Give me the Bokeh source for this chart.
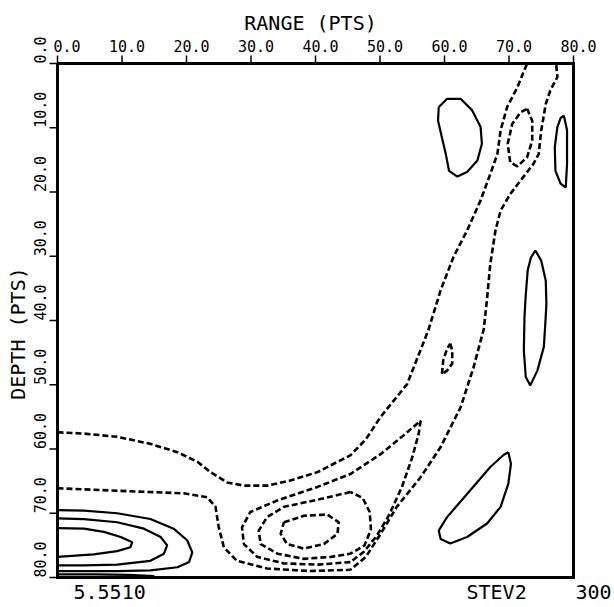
from math import pi
from bokeh.plotting import figure
from bokeh.models import Range1d
from bokeh.core.properties import value
from bokeh.embed import file_html
from bokeh.resources import INLINE

# ---- axis ticks / labels ----
x_ticks = [0, 10, 20, 30, 40, 50, 60, 70, 80]
x_tick_labels = ["0.0", "10.0", "20.0", "30.0", "40.0", "50.0", "60.0", "70.0", "80.0"]
y_ticks = [0, 10, 20, 30, 40, 50, 60, 70, 80]
y_tick_labels = ["0.0", "10.0", "20.0", "30.0", "40.0", "50.0", "60.0", "70.0", "80.0"]
x_title = "RANGE (PTS)"
y_title = "DEPTH (PTS)"
footer_texts = ["5.5510", "STEV2", "300"]

# ---- solid contours (range, depth) ----
s_inner_x = [0, 4.1, 7.2, 9.8, 11.6, 11.3, 9.25, 5.6, 0]
s_inner_y = [72.3, 72.4, 72.9, 73.7, 74.5, 75.3, 75.9, 76.4, 76.8]
s_mid_x = [0, 4.1, 9.25, 13.4, 16.0, 17.0, 16.5, 14.4, 9.25, 4.1, 0]
s_mid_y = [70.8, 70.9, 71.4, 72.4, 73.7, 75.0, 76.3, 77.4, 78.0, 78.1, 78.1]
s_outer_x = [0, 4.1, 9.25, 14.4, 18.0, 20.1, 20.9, 20.4, 18.6, 14.4, 9.25, 0]
s_outer_y = [69.5, 69.6, 70.0, 70.9, 72.4, 74.2, 76.1, 77.6, 78.4, 78.9, 79.0, 79.0]
s_base_x = [0, 6, 11, 15]
s_base_y = [79.5, 79.5, 79.6, 79.8]
s_loop_a_x = [59.1, 60.4, 62.5, 64.3, 65.6, 65.8, 65.1, 63.5, 62.0, 60.7, 60.2, 59.6, 59.0, 59.1]
s_loop_a_y = [6.8, 5.5, 5.5, 7.3, 9.9, 12.5, 15.1, 16.9, 17.6, 16.7, 14.1, 11.5, 8.9, 6.8]
s_loop_b_x = [78.5, 79.0, 79.0, 78.8, 78.0, 77.2, 77.1, 77.5, 78.0, 78.5]
s_loop_b_y = [8.1, 10.4, 15.6, 19.3, 18.7, 16.7, 13.0, 9.9, 8.5, 8.1]
s_loop_c_x = [74.1, 75.0, 75.7, 75.8, 75.6, 75.4, 74.4, 73.3, 72.6, 72.3, 72.4, 72.6, 72.9, 73.4, 74.1]
s_loop_c_y = [29.1, 30.7, 33.8, 37.5, 41.0, 44.1, 47.8, 50.1, 48.8, 44.7, 39.5, 36.0, 32.2, 30.2, 29.1]
s_loop_d_x = [69.9, 70.3, 69.9, 68.7, 66.6, 63.5, 60.9, 59.4, 59.1, 60.4, 63.5, 67.1, 69.2, 69.9]
s_loop_d_y = [60.5, 62.3, 65.4, 69.0, 71.6, 73.7, 74.7, 74.0, 72.7, 70.6, 67.0, 62.8, 60.9, 60.5]

# ---- dashed contours (range, depth) ----
d_upper_x = [0, 4.1, 9.25, 14.4, 18.6, 21.7, 23.7, 26.3, 28.9, 32.5, 36.1, 40.3, 43.4, 45.4,
             47.8, 50.1, 54.2, 57.5, 59.4, 61.4, 63.5, 65.6, 67.1, 68.2, 68.7, 69.7, 71.3, 72.8]
d_upper_y = [57.4, 57.6, 58.1, 59.2, 60.5, 62.0, 63.6, 65.2, 65.7, 65.7, 64.9, 63.6, 62.0, 61.0,
             58.5, 55.0, 49.9, 41.5, 35.3, 30.1, 26.0, 21.3, 17.2, 14.1, 10.4, 6.8, 3.7, 0]
d_tip_x = [45.4, 40.3, 35.1, 31.0, 28.9, 28.6, 29.9, 34.1, 40.3, 45.4, 50.1, 53.5, 56.3,
           56.0, 55.0, 53.4, 51.4, 49.5, 47.5, 45.4]
d_tip_y = [77.6, 78.0, 77.8, 76.8, 74.8, 72.2, 69.8, 68.0, 65.9, 63.9, 60.8, 58.0, 55.6,
           57.6, 61.3, 65.9, 70.3, 73.5, 76.0, 77.6]
d_second_x = [45.4, 40.3, 35.1, 32.5, 31.2, 31.5, 34.1, 38.2, 42.3, 45.4, 47.6, 48.6, 48.4, 47.3, 45.4]
d_second_y = [66.7, 67.9, 69.0, 70.6, 72.7, 74.8, 76.3, 77.1, 76.8, 76.3, 75.0, 72.5, 69.8, 67.6, 66.7]
d_inner_x = [35.1, 38.2, 41.8, 43.6, 43.4, 41.3, 38.2, 35.6, 34.6, 35.1]
d_inner_y = [71.4, 70.4, 70.2, 71.4, 73.2, 74.8, 75.5, 74.8, 73.2, 71.4]
d_lower_x = [0, 9.25, 19.6, 23.2, 24.5, 25.0, 25.8, 27.8, 32.5, 39.2, 45.4, 47.8, 50.1, 52.6,
             56.3, 59.4, 62.5, 64.5, 66.1, 66.6, 67.1, 67.9, 68.7, 70.2, 71.8, 73.8, 74.6, 75.0,
             75.7, 76.4, 77.5, 77.3]
d_lower_y = [66.1, 66.5, 66.9, 67.5, 69.0, 72.2, 75.3, 77.4, 78.6, 79.0, 78.8, 76.8, 73.2, 69.0,
             64.4, 59.7, 53.5, 47.3, 41.3, 36.6, 31.2, 26.0, 22.9, 20.3, 18.2, 15.6, 14.1, 10.4,
             6.3, 4.2, 2.1, 0]
d_small_x = [72.8, 73.6, 73.6, 72.8, 71.3, 70.2, 69.8, 70.5, 71.8, 72.8]
d_small_y = [7.05, 8.9, 12.0, 14.6, 16.0, 15.4, 12.5, 9.4, 7.6, 7.05]
d_tiny_x = [60.9, 61.2, 61.2, 60.4, 59.6, 59.8, 60.4, 60.9]
d_tiny_y = [43.6, 44.7, 46.7, 47.8, 48.4, 46.2, 44.4, 43.6]

solid = [(s_inner_x, s_inner_y), (s_mid_x, s_mid_y), (s_outer_x, s_outer_y),
         (s_base_x, s_base_y), (s_loop_a_x, s_loop_a_y), (s_loop_b_x, s_loop_b_y),
         (s_loop_c_x, s_loop_c_y), (s_loop_d_x, s_loop_d_y)]
dashed = [(d_upper_x, d_upper_y), (d_tip_x, d_tip_y), (d_second_x, d_second_y),
          (d_inner_x, d_inner_y), (d_lower_x, d_lower_y), (d_small_x, d_small_y),
          (d_tiny_x, d_tiny_y)]

FONT = value("DejaVu Sans Mono")
W, H = 614, 607
# pixel placement of the data box on the canvas
FL, FR, FT, FB = 57, 573, 63, 577
x0, x1 = x_ticks[0], x_ticks[-1]
y0, y1 = y_ticks[0], y_ticks[-1]
kx = (FR - FL) / (x1 - x0)   # px per unit
ky = (FB - FT) / (y1 - y0)

p = figure(width=W, height=H,
           x_range=Range1d(x0 - FL / kx, x1 + (W - FR) / kx),
           y_range=Range1d(y1 + (H - FB) / ky, y0 - FT / ky),
           x_axis_location=None, y_axis_location=None,
           output_backend="svg", toolbar_location=None,
           min_border=0, min_border_left=0, min_border_right=0,
           min_border_top=0, min_border_bottom=0)
p.background_fill_color = "white"
p.border_fill_color = "white"
p.outline_line_color = None
p.xgrid.visible = False
p.ygrid.visible = False

# contours
for xs, ys in solid:
    p.line(xs, ys, line_color="black", line_width=2.2)
for xs, ys in dashed:
    p.line(xs, ys, line_color="black", line_width=2.6, line_dash="6 3")

# frame box
p.line([x0, x1, x1, x0, x0], [y0, y0, y1, y1, y0], line_color="black", line_width=3,
       line_join="miter")

# tick marks (outward, 8 px)
tick_dy = 8 / ky
tick_dx = 8 / kx
p.segment(x0=x_ticks, y0=[y0] * len(x_ticks), x1=x_ticks, y1=[y0 - tick_dy] * len(x_ticks),
          line_color="black", line_width=1.5)
p.segment(x0=[x0] * len(y_ticks), y0=y_ticks, x1=[x0 - tick_dx] * len(y_ticks), y1=y_ticks,
          line_color="black", line_width=1.5)

# tick labels
p.text(x=[t + 23 / kx for t in x_ticks], y=[y0 - 17.5 / ky] * len(x_ticks), text=x_tick_labels,
       text_font=FONT, text_font_size=value("15px"), text_align="right",
       text_baseline="middle", text_color="black")
p.text(x=[x0 - 18 / kx] * len(y_ticks), y=y_ticks, text=y_tick_labels, angle=pi / 2,
       text_font=FONT, text_font_size=value("15px"), text_align="left",
       text_baseline="middle", text_color="black")

# axis titles
p.text(x=[x0 + (310 - FL) / kx], y=[y0 - 41 / ky], text=[x_title], text_font=FONT,
       text_font_size=value("20px"), text_align="center", text_baseline="middle",
       text_color="black")
p.text(x=[x0 - 40 / kx], y=[y0 + (333 - FT) / ky], text=[y_title], angle=pi / 2,
       text_font=FONT, text_font_size=value("20px"), text_align="center",
       text_baseline="middle", text_color="black")

# footer texts
p.text(x=[x0 + (73 - FL) / kx, x0 + (466 - FL) / kx, x0 + (575 - FL) / kx],
       y=[y1 + 14 / ky] * 3, text=footer_texts, text_font=FONT,
       text_font_size=value("20px"), text_align="left", text_baseline="middle",
       text_color="black")

open("out.html", "w").write(file_html(p, INLINE))
